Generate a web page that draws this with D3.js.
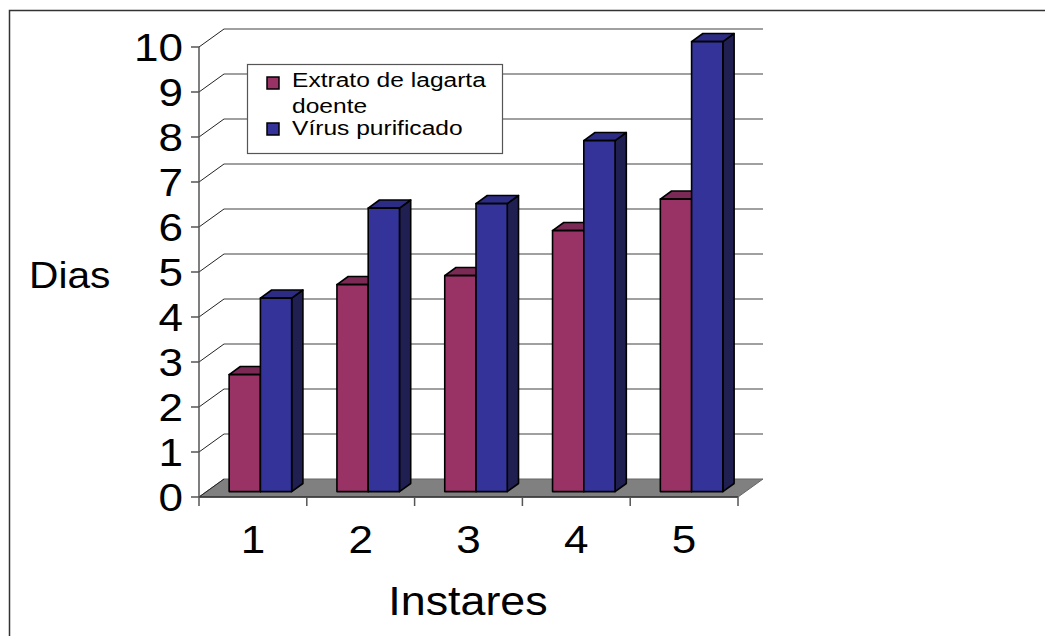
<!DOCTYPE html>
<html>
<head>
<meta charset="utf-8">
<script src="https://cdn.jsdelivr.net/npm/d3@7/dist/d3.min.js"></script>
<style>
  html, body { margin: 0; padding: 0; background: #fff; }
  svg { display: block; font-family: Arial, "Liberation Sans", sans-serif; }
</style>
</head>
<body>
<svg id="chart" width="1045" height="636"></svg>
<script>
// Days per larval instar
const categories = ["1", "2", "3", "4", "5"];
const extratoValues = [2.6, 4.6, 4.8, 5.8, 6.5];
const virusValues = [4.3, 6.3, 6.4, 7.8, 10.0];
const seriesNames = ["Extrato de lagarta doente", "Vírus purificado"];
const yTickValues = [0, 1, 2, 3, 4, 5, 6, 7, 8, 9, 10];

(function () {
const svg = d3.select("#chart");
const SX = 1.13; // horizontal text stretch

// Plot frame (front plane) and depth of the 3D box
const plotLeft = 199, plotRight = 738, plotBottom = 497, plotTop = 47;
const depthX = 25, depthY = -18;
const barFront = 0.3, barBack = 0.75; // fraction of box depth

const x0 = d3.scaleBand().domain(categories).range([plotLeft, plotRight]);
const x1 = d3.scaleBand().domain(seriesNames)
  .range([x0.bandwidth() * 0.21, x0.bandwidth() * 0.79]);
const y = d3.scaleLinear().domain([0, 10]).range([plotBottom, plotTop]);

// Outer frame
svg.append("rect")
  .attr("x", 9.5).attr("y", 10.5).attr("width", 1100).attr("height", 700)
  .attr("fill", "#fff").attr("stroke", "#333").attr("stroke-width", 1.5);

// Floor
svg.append("path")
  .attr("d", `M${plotLeft},${plotBottom} L${plotRight},${plotBottom} L${plotRight + depthX},${plotBottom + depthY} L${plotLeft + depthX},${plotBottom + depthY} Z`)
  .attr("fill", "#808080").attr("stroke", "#666").attr("stroke-width", 1);

// Gridlines: diagonal on the side wall, horizontal on the back wall
const grid = svg.append("g");
yTickValues.filter(v => v > 0).forEach(v => {
  grid.append("line")
    .attr("x1", plotLeft + depthX).attr("y1", y(v) + depthY)
    .attr("x2", plotRight + depthX).attr("y2", y(v) + depthY)
    .attr("stroke", "#808080").attr("stroke-width", 1.5);
  grid.append("line")
    .attr("x1", plotLeft).attr("y1", y(v))
    .attr("x2", plotLeft + depthX).attr("y2", y(v) + depthY)
    .attr("stroke", "#222").attr("stroke-width", 1);
});

// Front floor edge and value axis
svg.append("line").attr("x1", plotLeft).attr("y1", plotBottom).attr("x2", plotRight).attr("y2", plotBottom)
  .attr("stroke", "#333").attr("stroke-width", 1.5);
svg.append("line").attr("x1", plotLeft).attr("y1", plotBottom).attr("x2", plotLeft + depthX).attr("y2", plotBottom + depthY)
  .attr("stroke", "#222").attr("stroke-width", 1);
svg.append("line").attr("x1", plotLeft).attr("y1", plotTop).attr("x2", plotLeft).attr("y2", plotBottom)
  .attr("stroke", "#555").attr("stroke-width", 1.5);

// Y ticks and labels
yTickValues.forEach(v => {
  svg.append("line").attr("x1", plotLeft - 8).attr("x2", plotLeft).attr("y1", y(v)).attr("y2", y(v))
    .attr("stroke", "#555").attr("stroke-width", 1.5);
  svg.append("text")
    .attr("transform", `translate(${plotLeft - 16},${y(v) + 14}) scale(${SX},1)`)
    .attr("text-anchor", "end").attr("font-size", 39).attr("fill", "#000")
    .text(v);
});

// Category ticks and labels
const catTicks = categories.map(c => x0(c)).concat([plotRight]);
catTicks.forEach(tx => {
  svg.append("line").attr("x1", tx).attr("x2", tx).attr("y1", plotBottom).attr("y2", plotBottom + 9)
    .attr("stroke", "#555").attr("stroke-width", 1.5);
});
categories.forEach(c => {
  svg.append("text")
    .attr("transform", `translate(${x0(c) + x0.bandwidth() / 2},${553}) scale(${SX},1)`)
    .attr("text-anchor", "middle").attr("font-size", 39).attr("fill", "#000")
    .text(c);
});

// Axis titles
svg.append("text")
  .attr("transform", `translate(29,288) scale(1.1,1)`)
  .attr("font-size", 37).attr("fill", "#000").text("Dias");
svg.append("text")
  .attr("transform", `translate(468,615) scale(1.12,1)`)
  .attr("text-anchor", "middle").attr("font-size", 40).attr("fill", "#000").text("Instares");

// 3D bars
const styles = [
  { front: "#993366", top: "#7b2a55", side: "#5e1f40" },
  { front: "#333399", top: "#2c2c85", side: "#1f1f52" }
];
const seriesValues = [extratoValues, virusValues];
const fdx = depthX * barFront, fdy = depthY * barFront;
const bdx = depthX * (barBack - barFront), bdy = depthY * (barBack - barFront);

const bars = svg.append("g").attr("stroke", "#000").attr("stroke-width", 1.6).attr("stroke-linejoin", "round");
categories.forEach((c, i) => {
  seriesNames.forEach((s, k) => {
    const v = seriesValues[k][i];
    const xl = x0(c) + x1(s) + fdx;
    const xr = xl + x1.bandwidth();
    const yb = plotBottom + fdy;
    const yt = y(v) + fdy;
    const st = styles[k];
    bars.append("path")
      .attr("d", `M${xr},${yt} L${xr + bdx},${yt + bdy} L${xr + bdx},${yb + bdy} L${xr},${yb} Z`)
      .attr("fill", st.side);
    bars.append("path")
      .attr("d", `M${xl},${yt} L${xl + bdx},${yt + bdy} L${xr + bdx},${yt + bdy} L${xr},${yt} Z`)
      .attr("fill", st.top);
    bars.append("rect")
      .attr("x", xl).attr("y", yt).attr("width", x1.bandwidth()).attr("height", yb - yt)
      .attr("fill", st.front);
  });
});

// Legend
const legend = svg.append("g");
legend.append("rect").attr("x", 247.5).attr("y", 64.5).attr("width", 255).attr("height", 89)
  .attr("fill", "#fff").attr("stroke", "#555").attr("stroke-width", 1.2);
const legendRows = [
  { color: styles[0].front, sq: 77, lines: [["Extrato de lagarta", 87], ["doente", 113]] },
  { color: styles[1].front, sq: 123, lines: [["Vírus purificado", 135]] }
];
legendRows.forEach(r => {
  legend.append("rect").attr("x", 267).attr("y", r.sq).attr("width", 12).attr("height", 12)
    .attr("fill", r.color).attr("stroke", "#000").attr("stroke-width", 1.5);
  r.lines.forEach(([t, by]) => {
    legend.append("text")
      .attr("transform", `translate(292,${by}) scale(1.17,1)`)
      .attr("font-size", 21).attr("fill", "#000").text(t);
  });
});
})();
</script>
</body>
</html>
